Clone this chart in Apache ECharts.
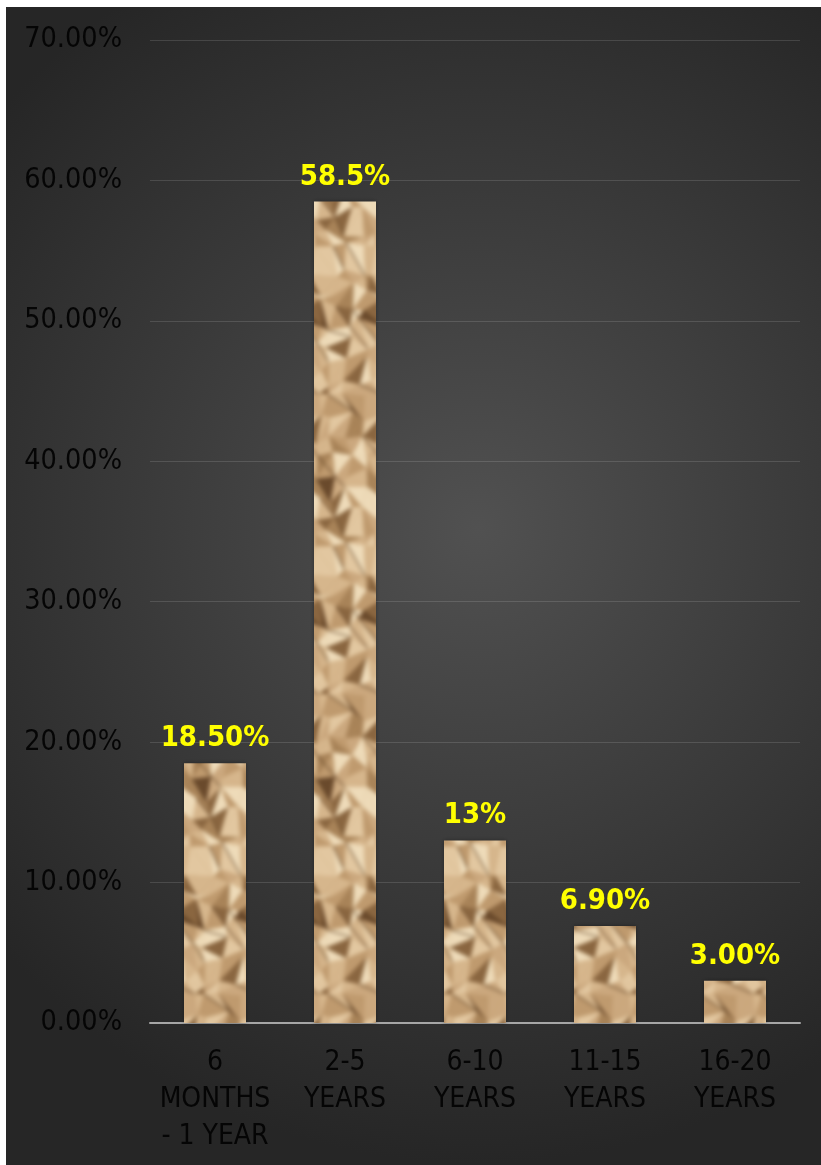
<!DOCTYPE html>
<html>
<head>
<meta charset="utf-8">
<script src="https://cdn.jsdelivr.net/npm/echarts@6/dist/echarts.min.js"></script>
<style>
html,body{margin:0;padding:0;background:#ffffff;}
#chart{position:absolute;left:6px;top:7px;width:815px;height:1158px;}
</style>
</head>
<body>
<div id="chart"></div>
<script>
const categories = ['6\nMONTHS\n- 1 YEAR', '2-5\nYEARS', '6-10\nYEARS', '11-15\nYEARS', '16-20\nYEARS'];
const values = [18.5, 58.5, 13, 6.9, 3.0];
const valueLabels = ['18.50%', '58.5%', '13%', '6.90%', '3.00%'];
const yTicks = { min: 0, max: 70, interval: 10 };

// crumpled-paper texture (deterministic hash noise, styling only)
function hash(i) { const s = Math.sin(i * 127.1 + 311.7) * 43758.5453; return s - Math.floor(s); }
function makeTexture() {
  const W = 62, H = 300, cols = 4, rows = 16;
  const cw = W / cols, ch = H / rows;
  const big = document.createElement('canvas');
  big.width = W * 3; big.height = H * 3;
  const g = big.getContext('2d');
  g.fillStyle = '#c49e70'; g.fillRect(0, 0, big.width, big.height);
  const pt = (i, j) => {
    const ii = ((i % cols) + cols) % cols, jj = ((j % rows) + rows) % rows;
    const k = ii * 97 + jj * 13;
    return [i * cw + (hash(k) - 0.5) * cw * 0.9, j * ch + (hash(k + 5000) - 0.5) * ch * 0.9];
  };
  const ramp = ['#6a4a2c', '#8a6640', '#a88358', '#bf9a6e', '#cba87e', '#d6b68c', '#e2c7a0', '#eedbb9'];
  const shade = (k) => {
    const v = (hash(k) + hash(k + 901) + hash(k + 1703)) / 3;
    const t = Math.max(0, Math.min(0.999, (v - 0.5) * 1.7 + 0.58));
    return ramp[Math.floor(t * ramp.length)];
  };
  for (let i = 0; i < cols * 3; i++) {
    for (let j = 0; j < rows * 3; j++) {
      const a = pt(i, j), b = pt(i + 1, j), c = pt(i + 1, j + 1), d = pt(i, j + 1);
      const ii = i % cols, jj = j % rows;
      const k = ii * 31 + jj * 7;
      const flip = hash(k + 77) > 0.5;
      const tris = flip ? [[a, b, c], [a, c, d]] : [[a, b, d], [b, c, d]];
      tris.forEach((t, n) => {
        g.beginPath();
        g.moveTo(t[0][0], t[0][1]); g.lineTo(t[1][0], t[1][1]); g.lineTo(t[2][0], t[2][1]);
        g.closePath();
        g.fillStyle = shade(k * 2 + n + 11);
        g.fill();
      });
      if (hash(k + 333) > 0.65) {
        g.strokeStyle = 'rgba(80,52,28,0.55)';
        g.lineWidth = 1.5;
        g.beginPath(); g.moveTo(a[0], a[1]); g.lineTo(c[0], c[1]); g.stroke();
      }
    }
  }
  const blurred = document.createElement('canvas');
  blurred.width = big.width; blurred.height = big.height;
  const bg = blurred.getContext('2d');
  bg.filter = 'blur(2.2px)';
  bg.drawImage(big, 0, 0);
  const out = document.createElement('canvas');
  out.width = W; out.height = H;
  const o = out.getContext('2d');
  o.drawImage(blurred, W, H, W, H, 0, 0, W, H);
  return out;
}

const chart = echarts.init(document.getElementById('chart'), null, { renderer: 'canvas' });
const labelFont = '"DejaVu Sans Condensed", "DejaVu Sans", sans-serif';

chart.setOption({
  backgroundColor: {
    type: 'radial', x: 0.58, y: 0.45, r: 0.78,
    colorStops: [{ offset: 0, color: '#515151' }, { offset: 1, color: '#262626' }]
  },
  animation: false,
  grid: { left: 144, right: 21, top: 33, bottom: 142 },
  xAxis: {
    type: 'category',
    data: categories,
    axisLine: { lineStyle: { color: '#a6a6a6', width: 2 } },
    axisTick: { show: false },
    axisLabel: {
      color: '#050505', fontFamily: labelFont, fontSize: 28, lineHeight: 37,
      margin: 21, interval: 0, verticalAlign: 'top'
    }
  },
  yAxis: {
    type: 'value',
    min: yTicks.min, max: yTicks.max, interval: yTicks.interval,
    axisLine: { show: false },
    axisTick: { show: false },
    splitLine: { lineStyle: { color: 'rgba(255,255,255,0.13)', width: 1 } },
    axisLabel: {
      color: '#050505', fontFamily: labelFont, fontSize: 28.5, margin: 28,
      formatter: v => v.toFixed(2) + '%'
    }
  },
  series: [{
    type: 'bar',
    data: values,
    barWidth: 62,
    itemStyle: {
      color: { image: makeTexture(), repeat: 'repeat' },
      shadowColor: 'rgba(0,0,0,0.35)', shadowBlur: 4
    },
    label: {
      show: true, position: 'top', distance: 10,
      color: '#ffff00', fontWeight: 'bold', fontSize: 29,
      fontFamily: '"DejaVu Sans Condensed", "DejaVu Sans", sans-serif',
      formatter: p => valueLabels[p.dataIndex]
    }
  }]
});
</script>
</body>
</html>
